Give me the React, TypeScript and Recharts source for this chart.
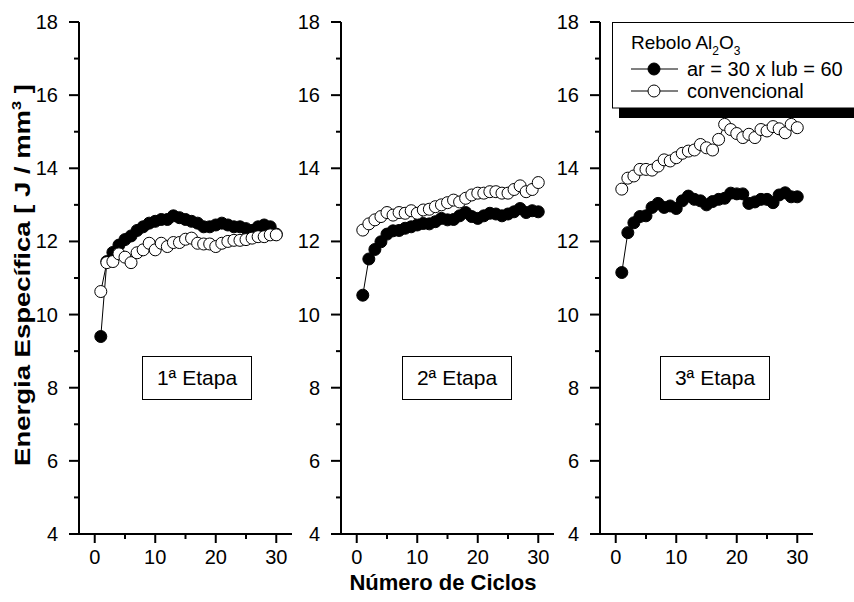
import { Line, LineChart, XAxis, YAxis } from 'recharts';

const cycles = [1, 2, 3, 4, 5, 6, 7, 8, 9, 10, 11, 12, 13, 14, 15, 16, 17, 18, 19, 20, 21, 22, 23, 24, 25, 26, 27, 28, 29, 30];

// 1ª Etapa
const airLub1 = [9.4, 11.45, 11.7, 11.9, 12.05, 12.15, 12.3, 12.4, 12.5, 12.55, 12.6, 12.6, 12.7, 12.65, 12.6, 12.55, 12.5, 12.4, 12.4, 12.45, 12.5, 12.45, 12.4, 12.4, 12.35, 12.3, 12.4, 12.45, 12.4, 12.2];
const conv1 = [10.63, 11.42, 11.45, 11.66, 11.57, 11.42, 11.69, 11.77, 11.95, 11.77, 11.95, 11.86, 11.97, 11.97, 12.06, 12.09, 11.95, 11.93, 11.93, 11.86, 11.95, 12.0, 12.03, 12.03, 12.05, 12.09, 12.13, 12.13, 12.18, 12.18];

// 2ª Etapa
const airLub2 = [10.53, 11.52, 11.78, 11.99, 12.2, 12.29, 12.3, 12.36, 12.4, 12.45, 12.49, 12.48, 12.54, 12.63, 12.59, 12.6, 12.7, 12.79, 12.68, 12.63, 12.7, 12.77, 12.75, 12.7, 12.75, 12.81, 12.9, 12.79, 12.84, 12.81];
const conv2 = [12.31, 12.48, 12.59, 12.68, 12.79, 12.72, 12.79, 12.77, 12.84, 12.77, 12.86, 12.88, 12.95, 13.0, 13.06, 13.13, 13.08, 13.18, 13.27, 13.32, 13.32, 13.36, 13.36, 13.32, 13.32, 13.42, 13.52, 13.36, 13.42, 13.61];

// 3ª Etapa
const airLub3 = [11.15, 12.24, 12.51, 12.68, 12.7, 12.93, 13.04, 12.93, 12.97, 12.9, 13.11, 13.24, 13.15, 13.11, 13.0, 13.09, 13.15, 13.18, 13.32, 13.3, 13.3, 13.04, 13.08, 13.15, 13.15, 13.06, 13.27, 13.33, 13.22, 13.22];
const conv3 = [13.43, 13.73, 13.79, 13.97, 13.97, 13.95, 14.06, 14.23, 14.2, 14.29, 14.41, 14.47, 14.5, 14.65, 14.56, 14.5, 14.79, 15.2, 15.06, 14.95, 14.84, 14.93, 14.84, 15.06, 15.02, 15.14, 15.08, 14.97, 15.2, 15.11];

const xTicks = [0, 5, 10, 15, 20, 25, 30];
const yTicks = [4, 5, 6, 7, 8, 9, 10, 11, 12, 13, 14, 15, 16, 17, 18];
const stages = ['1ª Etapa', '2ª Etapa', '3ª Etapa'];

const FONT = '"Liberation Sans", Arial, Helvetica, sans-serif';

const XTick = (props: any) => {
  const { x, y, payload } = props;
  const major = payload.value % 10 === 0;
  return (
    <g>
      <line x1={x} y1={y} x2={x} y2={y + (major ? 9 : 5)} stroke="#000" strokeWidth={2} />
      {major && (
        <text x={x} y={y + 30} textAnchor="middle" fontSize={20} fontFamily={FONT} fill="#000">
          {payload.value}
        </text>
      )}
    </g>
  );
};

const YTick = (props: any) => {
  const { x, y, payload } = props;
  const major = payload.value % 2 === 0;
  return (
    <g>
      <line x1={x} y1={y} x2={x - (major ? 10 : 5)} y2={y} stroke="#000" strokeWidth={2} />
      {major && (
        <text x={x - 21} y={y + 7} textAnchor="end" fontSize={20} fontFamily={FONT} fill="#000">
          {payload.value}
        </text>
      )}
    </g>
  );
};

function Panel({ left, airLub, conv, stage, boxLeft }: { left: number; airLub: number[]; conv: number[]; stage: string; boxLeft: number }) {
  const data = cycles.map((c, i) => ({ n: c, airLub: airLub[i], conv: conv[i] }));
  return (
    <>
      <div style={{ position: 'absolute', left, top: 0 }}>
        <LineChart width={273} height={602} data={data} margin={{ top: 22, right: 10, bottom: 28, left: 0 }}>
          <XAxis
            type="number"
            dataKey="n"
            domain={[-2.6, 32.6]}
            ticks={xTicks}
            interval={0}
            tickLine={false}
            tickSize={0}
            tickMargin={0}
            tick={<XTick />}
            axisLine={{ stroke: '#000', strokeWidth: 2 }}
            height={40}
            allowDataOverflow
          />
          <YAxis
            type="number"
            domain={[4, 18]}
            ticks={yTicks}
            interval={0}
            tickLine={false}
            tickSize={0}
            tickMargin={0}
            tick={<YTick />}
            axisLine={{ stroke: '#000', strokeWidth: 2 }}
            width={50}
            allowDataOverflow
          />
          <Line
            dataKey="airLub"
            stroke="#000"
            strokeWidth={1}
            dot={{ r: 6, fill: '#000', stroke: '#000', strokeWidth: 1 }}
            isAnimationActive={false}
          />
          <Line
            dataKey="conv"
            stroke="#000"
            strokeWidth={1}
            dot={{ r: 6, fill: '#fff', stroke: '#000', strokeWidth: 1 }}
            isAnimationActive={false}
          />
        </LineChart>
      </div>
      <div
        style={{
          position: 'absolute',
          left: boxLeft,
          top: 356,
          width: 108,
          height: 42,
          border: '1px solid #000',
          background: '#fff',
          fontFamily: FONT,
          fontSize: 21,
          lineHeight: '42px',
          textAlign: 'center',
          color: '#000',
        }}
      >
        {stage}
      </div>
    </>
  );
}

export default function App() {
  return (
    <div style={{ position: 'absolute', left: 0, top: 0, width: 854, height: 602, overflow: 'hidden', background: '#fff' }}>
      <Panel left={29} airLub={airLub1} conv={conv1} stage={stages[0]} boxLeft={142} />
      <Panel left={291} airLub={airLub2} conv={conv2} stage={stages[1]} boxLeft={402} />
      <Panel left={550} airLub={airLub3} conv={conv3} stage={stages[2]} boxLeft={660} />

      <svg width={854} height={602} style={{ position: 'absolute', left: 0, top: 0, pointerEvents: 'none' }}>
        <text transform="translate(30, 275) rotate(-90) scale(1.25, 1)" textAnchor="middle" fontFamily={FONT} fontWeight="bold" fontSize={22} fill="#000">
          Energia Específica [ J / mm<tspan dy={-9} fontSize={13}>3</tspan><tspan dy={9}> ]</tspan>
        </text>
        <text x={443} y={590} textAnchor="middle" fontFamily={FONT} fontWeight="bold" fontSize={22} fill="#000">
          Número de Ciclos
        </text>

        {/* legend */}
        <rect x={619} y={32} width={300} height={86} fill="#000" />
        <rect x={612.5} y={22.5} width={300} height={85.5} fill="#fff" stroke="#000" strokeWidth={1} />
        <text x={631} y={49} fontFamily={FONT} fontSize={19} fill="#000">
          Rebolo Al<tspan dy={6} fontSize={12}>2</tspan><tspan dy={-6}>O</tspan><tspan dy={6} fontSize={12}>3</tspan>
        </text>
        <line x1={631} y1={69} x2={678} y2={69} stroke="#000" strokeWidth={1} />
        <circle cx={654} cy={69} r={6} fill="#000" stroke="#000" />
        <text x={687} y={76} fontFamily={FONT} fontSize={20} fill="#000">ar = 30 x lub = 60</text>
        <line x1={631} y1={91} x2={678} y2={91} stroke="#000" strokeWidth={1} />
        <circle cx={654} cy={91} r={6} fill="#fff" stroke="#000" />
        <text x={687} y={98} fontFamily={FONT} fontSize={20} fill="#000">convencional</text>
      </svg>
    </div>
  );
}
